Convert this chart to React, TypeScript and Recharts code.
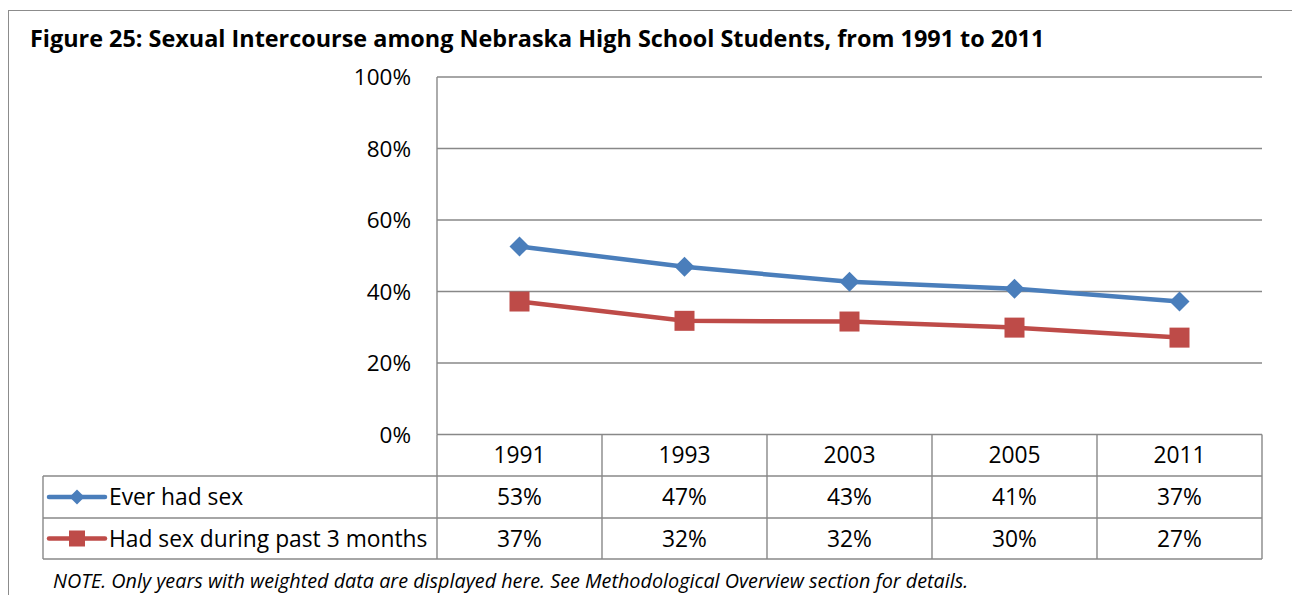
import { CartesianGrid, Line, LineChart, XAxis, YAxis } from "recharts";

const years = ["1991", "1993", "2003", "2005", "2011"];
const everHadSex = [52.6, 46.9, 42.7, 40.8, 37.2];
const pastThreeMonths = [37.2, 31.8, 31.6, 29.9, 27.1];
const yTicks = [0, 20, 40, 60, 80, 100];

const seriesNames = ["Ever had sex", "Had sex during past 3 months"];
const BLUE = "#4A7EBB";
const RED = "#BE4B48";
const GRID = "#888888";
const FONT = "'Open Sans', Lato, sans-serif";

const data = years.map((year, i) => ({
  year,
  ever: everHadSex[i],
  recent: pastThreeMonths[i],
}));

const W = 1292;
const H = 595;
const PLOT_LEFT = 437;
const PLOT_RIGHT = 1262;
const PLOT_TOP = 77;
const PLOT_BOTTOM = 434.5;
const COL = (PLOT_RIGHT - PLOT_LEFT) / years.length;
const TABLE_LEFT = 43;
const ROW_TOPS = [0, 41.5, 83.5, 124.5];

const pct = (v: number) => `${Math.round(v)}%`;

function diamond(cx: number, cy: number, s: number, key?: string) {
  return (
    <polygon
      key={key}
      points={`${cx},${cy - s} ${cx + s},${cy} ${cx},${cy + s} ${cx - s},${cy}`}
      fill={BLUE}
    />
  );
}

function square(cx: number, cy: number, s: number, key?: string) {
  return <rect key={key} x={cx - s} y={cy - s} width={s * 2} height={s * 2} fill={RED} />;
}

function YTick({ y, payload }: any) {
  return (
    <text
      x={PLOT_LEFT - 26}
      y={y}
      dy="0.36em"
      textAnchor="end"
      fontFamily={FONT}
      fontSize={22.5}
      fill="#000"
    >
      {payload.value}%
    </text>
  );
}

// each x tick draws one column of the data table below the plot
function TableTick({ x, y, payload, index }: any) {
  const left = x - COL / 2;
  const right = x + COL / 2;
  const rowY = ROW_TOPS.map((r) => y + r);
  const line = { stroke: GRID, strokeWidth: 1.4 };
  const txt = { fontFamily: FONT, fontSize: 22.8, fill: "#000" };
  const mid = (a: number, b: number) => (a + b) / 2;
  return (
    <g>
      <line x1={left} y1={rowY[0]} x2={left} y2={rowY[3]} {...line} />
      {index === years.length - 1 && (
        <line x1={right} y1={rowY[0]} x2={right} y2={rowY[3]} {...line} />
      )}
      {[1, 2, 3].map((r) => (
        <line
          key={r}
          x1={index === 0 ? TABLE_LEFT : left}
          y1={rowY[r]}
          x2={right}
          y2={rowY[r]}
          {...line}
        />
      ))}
      {index === 0 && (
        <g>
          <line x1={TABLE_LEFT} y1={rowY[1]} x2={TABLE_LEFT} y2={rowY[3]} {...line} />
          {[BLUE, RED].map((c, r) => {
            const cy = mid(rowY[r + 1], rowY[r + 2]);
            return (
              <g key={c}>
                <line x1={49} y1={cy} x2={105} y2={cy} stroke={c} strokeWidth={4.5} strokeLinecap="round" />
                {r === 0 ? diamond(77, cy, 7.5) : square(77, cy, 8)}
                <text x={109} y={cy} dy="0.36em" {...txt}>
                  {seriesNames[r]}
                </text>
              </g>
            );
          })}
        </g>
      )}
      <text x={x} y={mid(rowY[0], rowY[1])} dy="0.36em" textAnchor="middle" {...txt}>
        {payload.value}
      </text>
      <text x={x} y={mid(rowY[1], rowY[2])} dy="0.36em" textAnchor="middle" {...txt}>
        {pct(everHadSex[index])}
      </text>
      <text x={x} y={mid(rowY[2], rowY[3])} dy="0.36em" textAnchor="middle" {...txt}>
        {pct(pastThreeMonths[index])}
      </text>
    </g>
  );
}

export default function App() {
  return (
    <div style={{ position: "absolute", left: 0, top: 0, width: W, height: H, overflow: "hidden", background: "#fff" }}>
      <div
        style={{
          position: "absolute",
          left: 8,
          top: 10,
          width: 1400,
          height: 700,
          border: "1.5px solid #8c8c8c",
        }}
      />
      <div style={{ position: "absolute", left: 0, top: 0 }}>
        <LineChart width={W} height={H} data={data} margin={{ top: PLOT_TOP, right: W - PLOT_RIGHT, bottom: 0, left: 0 }}>
          <CartesianGrid vertical={false} stroke={GRID} strokeWidth={1.4} />
          <XAxis
            dataKey="year"
            height={H - PLOT_BOTTOM}
            axisLine={false}
            tickLine={false}
            tickSize={0}
            tickMargin={0}
            padding={{ left: COL / 2, right: COL / 2 }}
            tick={<TableTick />}
            interval={0}
          />
          <YAxis
            width={PLOT_LEFT}
            domain={[0, 100]}
            ticks={yTicks}
            axisLine={{ stroke: GRID, strokeWidth: 1.4 }}
            tickLine={false}
            tick={<YTick />}
          />
          <Line
            dataKey="ever"
            stroke={BLUE}
            strokeWidth={4.5}
            dot={(p: any) => diamond(p.cx, p.cy, 10, `d${p.index}`)}
            activeDot={false}
            isAnimationActive={false}
          />
          <Line
            dataKey="recent"
            stroke={RED}
            strokeWidth={4.5}
            dot={(p: any) => square(p.cx, p.cy, 10, `s${p.index}`)}
            activeDot={false}
            isAnimationActive={false}
          />
        </LineChart>
      </div>
      <svg width={W} height={H} style={{ position: "absolute", left: 0, top: 0, pointerEvents: "none" }}>
        <text x={30} y={47} fontFamily={FONT} fontWeight={700} fontSize={23.4} fill="#000">
          Figure 25: Sexual Intercourse among Nebraska High School Students, from 1991 to 2011
        </text>
        <text x={53} y={588} fontFamily={FONT} fontStyle="italic" fontSize={19.8} fill="#000">
          NOTE. Only years with weighted data are displayed here. See Methodological Overview section for details.
        </text>
      </svg>
    </div>
  );
}
